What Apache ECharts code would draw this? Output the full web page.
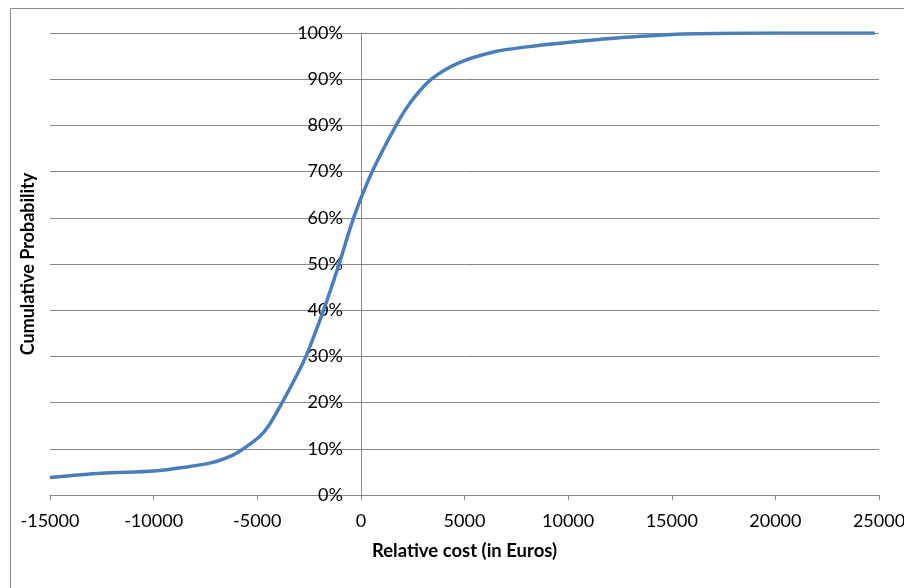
<!DOCTYPE html>
<html>
<head>
<meta charset="utf-8">
<script src="https://cdn.jsdelivr.net/npm/echarts@6/dist/echarts.min.js"></script>
<style>html,body{margin:0;padding:0;background:#fff;}#c{width:904px;height:588px;}</style>
</head>
<body>
<div id="c"></div>
<script>
var costs = [-15000, -12500, -10000, -8500, -7200, -6200, -5700, -4900, -4450, -3800, -3200, -2650, -1800, -1050, -350, 550, 1700, 2400, 3400, 4700, 6400, 8000, 9600, 11500, 12800, 14400, 15500, 20000, 24800];
var probs = [3.8, 4.7, 5.2, 6.0, 7.0, 8.6, 9.9, 12.6, 15, 20, 25, 30, 40, 50, 60, 70, 80, 85, 90, 93.5, 95.9, 97.0, 97.8, 98.6, 99.1, 99.5, 99.8, 100, 100];
var xTicks = [-15000, -10000, -5000, 0, 5000, 10000, 15000, 20000, 25000];
var yTicks = [0, 10, 20, 30, 40, 50, 60, 70, 80, 90, 100];

var pts = costs.map(function (c, i) { return [c, probs[i]]; });
var font = 'Lato, "Open Sans", sans-serif';
var gridLeft = 50, gridRight = 25, W = 904;
var xMin = xTicks[0], xMax = xTicks[xTicks.length - 1];
// place the value axis where x = 0 on the category axis
var zeroOffset = -(0 - xMin) / (xMax - xMin) * (W - gridLeft - gridRight);
var chart = echarts.init(document.getElementById('c'));
chart.setOption({
  animation: false,
  backgroundColor: '#fff',
  graphic: [{
    type: 'rect', shape: {x: 10.5, y: 8.5, width: 1000, height: 1000},
    style: {fill: 'none', stroke: '#8a8a8a', lineWidth: 1}, silent: true, z: -1
  }],
  grid: {left: gridLeft, right: gridRight, top: 33, bottom: 93, containLabel: false, outerBoundsMode: 'none'},
  xAxis: {
    type: 'value', min: xMin, max: xMax, interval: 5000,
    name: 'Relative cost (in Euros)', nameLocation: 'middle', nameGap: 47,
    nameTextStyle: {fontFamily: font, fontSize: 18.5, fontWeight: 'bold', color: '#000'},
    axisLine: {onZero: false, lineStyle: {color: '#868686', width: 1}},
    axisTick: {show: true, length: 5, lineStyle: {color: '#868686'}},
    axisLabel: {fontFamily: font, fontSize: 18, color: '#000', margin: 17,
      formatter: function (v) { return String(v); }},
    splitLine: {show: false}
  },
  yAxis: {
    type: 'value', min: yTicks[0], max: yTicks[yTicks.length - 1], interval: 10,
    offset: zeroOffset,
    name: 'Cumulative Probability', nameLocation: 'middle', nameGap: 324, nameRotate: 90,
    nameTextStyle: {fontFamily: font, fontSize: 18, fontWeight: 'bold', color: '#000'},
    axisLine: {show: true, onZero: false, lineStyle: {color: '#868686', width: 1}},
    axisTick: {show: true, length: 6, lineStyle: {color: '#868686'}},
    axisLabel: {fontFamily: font, fontSize: 18, color: '#000', margin: 18,
      formatter: function (v) { return v + '%'; }},
    splitLine: {show: true, lineStyle: {color: '#868686', width: 1}}
  },
  series: [{
    type: 'line', data: pts, smooth: 0.3, showSymbol: false,
    lineStyle: {color: '#4a7ebb', width: 3.5},
    z: 1
  }]
});
</script>
</body>
</html>
